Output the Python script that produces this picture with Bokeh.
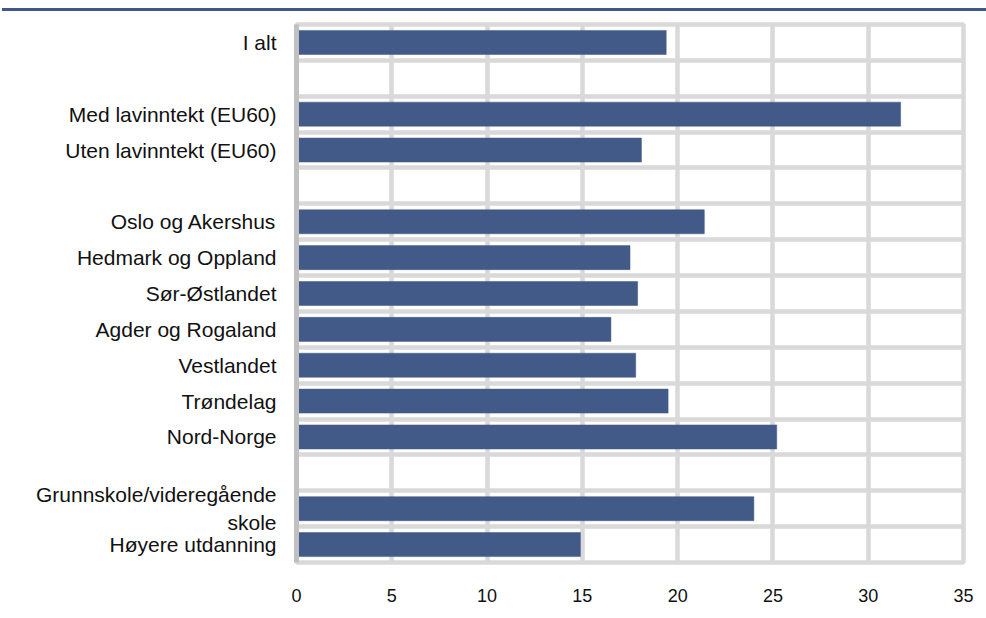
from bokeh.plotting import figure
from bokeh.models import Range1d, FixedTicker, Grid, Div
from bokeh.layouts import column
from bokeh.embed import file_html
from bokeh.resources import INLINE

# Data (groups separated by blank rows in the chart)
group_total = ["I alt"]
values_total = [19.4]
group_income = ["Med lavinntekt (EU60)", "Uten lavinntekt (EU60)"]
values_income = [31.7, 18.1]
group_region = ["Oslo og Akershus", "Hedmark og Oppland", "Sør-Østlandet",
                "Agder og Rogaland", "Vestlandet", "Trøndelag", "Nord-Norge"]
values_region = [21.4, 17.5, 17.9, 16.5, 17.8, 19.5, 25.2]
group_edu = ["Grunnskole/videregående\nskole", "Høyere utdanning"]
values_edu = [24.0, 14.9]
x_ticks = [0, 5, 10, 15, 20, 25, 30, 35]

groups = [(group_total, values_total), (group_income, values_income),
          (group_region, values_region), (group_edu, values_edu)]

labels, vals, rows = [], [], []
r = 0
for gi, (names, vs) in enumerate(groups):
    if gi > 0:
        r += 1  # blank separator row
    for n, v in zip(names, vs):
        labels.append(n)
        vals.append(v)
        rows.append(r + 0.5)
        r += 1
n_rows = r

BAR = "#425a87"
GRID = "#d9d9d9"
FONT = "Liberation Sans"

p = figure(width=986, height=607, output_backend="svg", toolbar_location=None,
           x_range=Range1d(0, 35), y_range=Range1d(n_rows, 0),
           min_border_left=296, min_border_right=23, min_border_top=13,
           min_border_bottom=56)
p.outline_line_color = GRID
p.outline_line_width = 4.5
p.background_fill_color = "white"
p.border_fill_color = "white"

p.hbar(y=rows, right=vals, left=0, height=0.67, fill_color=BAR, line_color=BAR,
       line_width=0.5)

# grids
p.xgrid.ticker = FixedTicker(ticks=x_ticks)
p.xgrid.grid_line_color = GRID
p.xgrid.grid_line_width = 4.5
p.ygrid.grid_line_color = None
p.add_layout(Grid(dimension=1, ticker=FixedTicker(ticks=list(range(n_rows + 1))),
                  grid_line_color=GRID, grid_line_width=4.5))

# x axis
xa = p.xaxis[0]
xa.ticker = FixedTicker(ticks=x_ticks)
xa.axis_line_color = None
xa.major_tick_line_color = None
xa.minor_tick_line_color = None
xa.major_label_text_font = FONT
xa.major_label_text_font_size = "18px"
xa.major_label_text_color = "#111111"
xa.major_label_standoff = 20

# y axis
ya = p.yaxis[0]
ya.ticker = FixedTicker(ticks=rows)
ya.major_label_overrides = {rv: lb for rv, lb in zip(rows, labels)}
ya.axis_line_color = "#c0c0c0"
ya.axis_line_width = 5
ya.major_tick_line_color = None
ya.minor_tick_line_color = None
ya.major_label_text_font = FONT
ya.major_label_text_font_size = "21px"
ya.major_label_text_color = "#111111"
ya.major_label_standoff = 14

top = Div(text="", width=984, height=8, margin=(0, 0, 0, 2),
          styles={"border-bottom": "3px solid #3f5a8a", "padding": "0px",
                  "box-sizing": "content-box"})

layout = column(top, p, spacing=0)
open("out.html", "w").write(file_html(layout, INLINE))
